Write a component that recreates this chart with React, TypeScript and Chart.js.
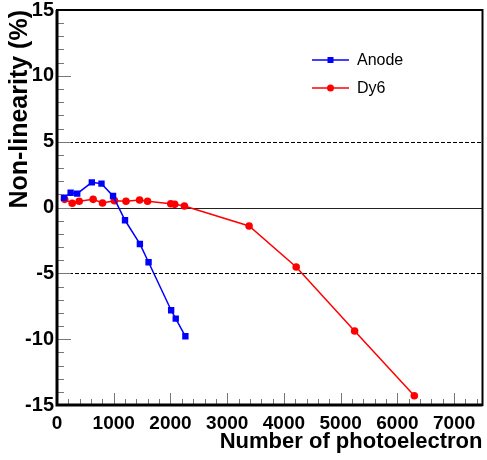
import React, { useEffect, useRef } from 'react';
import { Chart, registerables } from 'chart.js';

Chart.register(...registerables);

// Measured non-linearity (%) versus number of photoelectrons
const anodeX = [123, 240, 356, 614, 784, 988, 1199, 1461, 1614, 2012, 2093, 2263];
const anodeY = [0.74, 1.12, 1.05, 1.91, 1.81, 0.87, -0.97, -2.77, -4.16, -7.8, -8.44, -9.78];
const dy6X = [135, 268, 391, 637, 802, 1012, 1216, 1456, 1596, 2005, 2075, 2246, 3386, 4216, 5246, 6298];
const dy6Y = [0.62, 0.32, 0.47, 0.62, 0.34, 0.52, 0.47, 0.57, 0.47, 0.29, 0.24, 0.11, -1.4, -4.52, -9.38, -14.3];

const seriesLabels = ['Anode', 'Dy6'];

const xTicks = [0, 1000, 2000, 3000, 4000, 5000, 6000, 7000];
const yTicks = [-15, -10, -5, 0, 5, 10, 15];
const xRange = [0, 7500];
const yRange = [-15, 15];
const xMinorStep = 200;
const yMinorStep = 1;

// Reference levels: solid at zero, dashed at +/-5 %
const solidLevels = [0];
const dashedLevels = [5, -5];

const FONT = "'Liberation Sans', Arial, Helvetica, sans-serif";

const toPoints = (xs: number[], ys: number[]) => xs.map((x, i) => ({ x, y: ys[i] }));

const levelsPlugin = {
  id: 'levels',
  beforeDatasetsDraw(chart: any) {
    const { ctx, chartArea: a, scales } = chart;
    const y = scales.y;
    ctx.save();
    ctx.strokeStyle = '#222';
    ctx.lineWidth = 1;
    solidLevels.forEach((v) => {
      const py = Math.round(y.getPixelForValue(v)) + 0.5;
      ctx.beginPath();
      ctx.moveTo(a.left, py);
      ctx.lineTo(a.right, py);
      ctx.stroke();
    });
    ctx.strokeStyle = '#000';
    ctx.lineWidth = 1.2;
    ctx.setLineDash([4, 2]);
    dashedLevels.forEach((v) => {
      const py = Math.round(y.getPixelForValue(v)) + 0.5;
      ctx.beginPath();
      ctx.moveTo(a.left, py);
      ctx.lineTo(a.right, py);
      ctx.stroke();
    });
    ctx.restore();
  },
};

const framePlugin = {
  id: 'frame',
  afterDatasetsDraw(chart: any) {
    const { ctx, chartArea: a, scales } = chart;
    const xs = scales.x;
    const ys = scales.y;
    ctx.save();
    // inward tick marks
    ctx.strokeStyle = '#777';
    ctx.lineWidth = 1;
    for (let v = xRange[0]; v <= xRange[1] + 1e-6; v += xMinorStep) {
      const major = xTicks.includes(v);
      const px = Math.round(xs.getPixelForValue(v)) + 0.5;
      ctx.beginPath();
      ctx.moveTo(px, a.bottom);
      ctx.lineTo(px, a.bottom - (major ? 12 : 6));
      ctx.stroke();
    }
    for (let v = yRange[0]; v <= yRange[1] + 1e-6; v += yMinorStep) {
      const major = yTicks.includes(v);
      const py = Math.round(ys.getPixelForValue(v)) + 0.5;
      ctx.beginPath();
      ctx.moveTo(a.left, py);
      ctx.lineTo(a.left + (major ? 14 : 7), py);
      ctx.stroke();
    }
    // frame
    ctx.strokeStyle = '#000';
    ctx.lineWidth = 2;
    ctx.strokeRect(a.left, a.top, a.right - a.left, a.bottom - a.top);
    ctx.lineWidth = 3;
    ctx.beginPath();
    ctx.moveTo(a.left, a.top);
    ctx.lineTo(a.left, a.bottom);
    ctx.lineTo(a.right, a.bottom);
    ctx.stroke();
    ctx.restore();
  },
};

const legendPlugin = {
  id: 'lineLegend',
  afterDraw(chart: any) {
    const { ctx } = chart;
    const rows = [60, 88];
    const x0 = 312;
    const x1 = 349;
    ctx.save();
    chart.data.datasets.forEach((ds: any, i: number) => {
      const y = rows[i];
      ctx.strokeStyle = ds.borderColor;
      ctx.fillStyle = ds.backgroundColor;
      ctx.lineWidth = 1.5;
      ctx.beginPath();
      ctx.moveTo(x0, y);
      ctx.lineTo(x1, y);
      ctx.stroke();
      const cx = (x0 + x1) / 2;
      if (ds.pointStyle === 'rect') {
        ctx.fillRect(cx - 3, y - 3, 6, 6);
      } else {
        ctx.beginPath();
        ctx.arc(cx, y, 3.5, 0, Math.PI * 2);
        ctx.fill();
      }
      ctx.fillStyle = '#000';
      ctx.font = `16px ${FONT}`;
      ctx.textAlign = 'left';
      ctx.textBaseline = 'middle';
      ctx.fillText(ds.label, 357, y + 1);
    });
    ctx.restore();
  },
};

const noEdgePadding = (s: any) => {
  s.paddingTop = 0;
  s.paddingBottom = 0;
  s.paddingLeft = 0;
  s.paddingRight = 0;
};

export default function App() {
  const canvasRef = useRef<HTMLCanvasElement | null>(null);

  useEffect(() => {
    const canvas = canvasRef.current;
    if (!canvas) return;
    const chart = new Chart(canvas, {
      type: 'scatter',
      data: {
        datasets: [
          {
            label: seriesLabels[0],
            data: toPoints(anodeX, anodeY),
            showLine: true,
            borderColor: '#0000ff',
            backgroundColor: '#0000ff',
            borderWidth: 1.5,
            pointStyle: 'rect',
            pointRadius: 4.5,
            pointBorderWidth: 0,
          },
          {
            label: seriesLabels[1],
            data: toPoints(dy6X, dy6Y),
            showLine: true,
            borderColor: '#ff0000',
            backgroundColor: '#ff0000',
            borderWidth: 1.5,
            pointStyle: 'circle',
            pointRadius: 3.8,
            pointBorderWidth: 0,
          },
        ],
      },
      options: {
        responsive: false,
        animation: false,
        devicePixelRatio: 1,
        layout: { padding: { top: 10, right: 2, left: 0, bottom: 0 } },
        plugins: {
          legend: { display: false },
          tooltip: { enabled: false },
        },
        scales: {
          x: {
            type: 'linear',
            min: xRange[0],
            max: xRange[1],
            afterBuildTicks: (s: any) => {
              s.ticks = xTicks.map((value) => ({ value }));
            },
            afterFit: (s: any) => {
              s.height = 55;
              noEdgePadding(s);
            },
            grid: { display: false, drawTicks: false },
            border: { display: false },
            ticks: {
              color: '#000',
              padding: 7,
              maxRotation: 0,
              autoSkip: false,
              font: { family: FONT, size: 19, weight: 'bold' },
              callback: (v: any) => String(v),
            },
            title: {
              display: true,
              text: 'Number of photoelectron',
              align: 'end',
              color: '#000',
              padding: { top: 0, bottom: 5 },
              font: { family: FONT, size: 22, weight: 'bold' },
            },
          },
          y: {
            type: 'linear',
            min: yRange[0],
            max: yRange[1],
            afterBuildTicks: (s: any) => {
              s.ticks = yTicks.map((value) => ({ value }));
            },
            afterFit: (s: any) => {
              s.width = 57;
              noEdgePadding(s);
            },
            grid: { display: false, drawTicks: false },
            border: { display: false },
            ticks: {
              color: '#000',
              padding: 3,
              autoSkip: false,
              font: { family: FONT, size: 20, weight: 'bold' },
              callback: (v: any) => String(v),
            },
            title: {
              display: true,
              text: 'Non-linearity (%)',
              align: 'end',
              color: '#000',
              padding: { top: 5, bottom: 0 },
              font: { family: FONT, size: 25, weight: 'bold' },
            },
          },
        },
      },
      plugins: [levelsPlugin, framePlugin, legendPlugin],
    } as any);
    return () => chart.destroy();
  }, []);

  return (
    <div style={{ position: 'absolute', left: 0, top: 0, width: 487, height: 460, background: '#fff' }}>
      <canvas ref={canvasRef} width={487} height={460} style={{ display: 'block' }} />
    </div>
  );
}
